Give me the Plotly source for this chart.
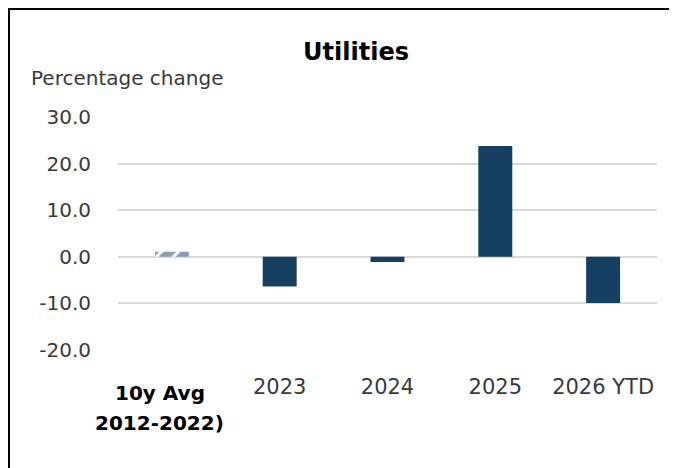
import plotly.graph_objects as go

categories = ["10y Avg", "2023", "2024", "2025", "2026 YTD"]
first_label_lines = ["10y Avg", "2012-2022)"]
x_tick_labels = ["", "2023", "2024", "2025", "2026 YTD"]
avg_value = [1.1]
year_values = [-6.4, -1.1, 23.8, -9.9]
y_tick_vals = [30, 20, 10, 0, -10, -20]
y_tick_text = ["30.0", "20.0", "10.0", "0.0", "-10.0", "-20.0"]

NAVY = "#173F5F"
TXT = "#3A3A3A"
FONT = "DejaVu Sans"
# figure sits inside the page body's 8px margin
W, H = 669, 460
L, R, T, B = 110, 20, 109, 118
pw, ph = W - L - R, H - T - B

def px_x(x):
    return (x - L) / pw

def px_y(y):
    return (H - B - y) / ph

fig = go.Figure()
fig.add_trace(go.Bar(
    x=categories[:1], y=avg_value,
    marker=dict(color="white",
                pattern=dict(shape="/", fgcolor=NAVY, bgcolor="white", size=12, solidity=0.75),
                line=dict(width=0)),
    width=0.315, showlegend=False,
))
fig.add_trace(go.Bar(
    x=categories[1:], y=year_values,
    marker=dict(color=NAVY, line=dict(width=0)),
    width=0.315, showlegend=False,
))

fig.update_layout(
    width=W, height=H,
    margin=dict(l=L, r=R, t=T, b=B),
    plot_bgcolor="white", paper_bgcolor="white",
    font=dict(family=FONT, color=TXT, size=20),
    barmode="overlay",
    title=dict(text="<b>Utilities</b>", x=348 / W, xanchor="center",
               y=1 - 44 / H, yanchor="middle",
               font=dict(family=FONT, size=24, color="#000000")),
    xaxis=dict(tickmode="array", tickvals=categories, ticktext=x_tick_labels,
               range=[-0.5, len(categories) - 0.5], autorange=False,
               showgrid=False, showline=False, zeroline=False, ticks="",
               ticklabelstandoff=22, tickfont=dict(size=21, color=TXT)),
    yaxis=dict(range=[-20, 30], autorange=False, tickmode="array",
               tickvals=y_tick_vals, ticktext=y_tick_text,
               showgrid=True, gridcolor="#D9D9D9", gridwidth=2,
               zeroline=False, showline=False, ticks="",
               ticklabelstandoff=26, tickfont=dict(size=20, color=TXT)),
)

# first category label (bold, two lines, slightly offset as in the original)
for i, line in enumerate(first_label_lines):
    fig.add_annotation(text="<b>" + line + "</b>", xref="x", yref="paper",
                       x=categories[0], xshift=-12, y=px_y(399 + 30 * i),
                       xanchor="center", yanchor="bottom", showarrow=False,
                       font=dict(family=FONT, size=20, color="#000000"))

fig.add_annotation(text="Percentage change", xref="paper", yref="paper",
                   x=px_x(21), y=px_y(70), xanchor="left", yanchor="middle",
                   showarrow=False, font=dict(family=FONT, size=20, color=TXT))

fig.add_shape(type="rect", xref="paper", yref="paper",
              x0=px_x(1), x1=px_x(667.5), y0=px_y(H + 20), y1=px_y(1),
              line=dict(color="#000000", width=2), fillcolor="rgba(0,0,0,0)")

fig.write_html("out.html")
